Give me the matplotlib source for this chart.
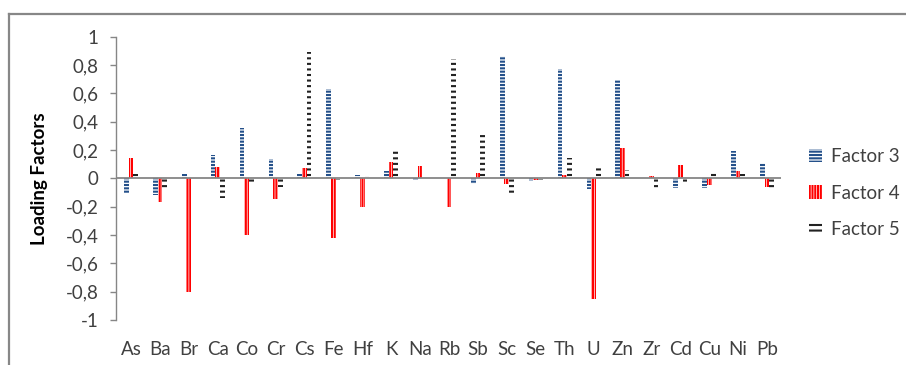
import matplotlib
matplotlib.use("Agg")
import matplotlib.pyplot as plt
import numpy as np
from matplotlib.lines import Line2D

plt.rcParams['font.family'] = ['Lato', 'DejaVu Sans']
plt.rcParams['hatch.linewidth'] = 1.5

categories = ["As", "Ba", "Br", "Ca", "Co", "Cr", "Cs", "Fe", "Hf", "K", "Na", "Rb",
              "Sb", "Sc", "Se", "Th", "U", "Zn", "Zr", "Cd", "Cu", "Ni", "Pb"]
factor3 = [-0.10, -0.12, 0.028, 0.163, 0.358, 0.137, 0.028, 0.632, 0.026, 0.054, -0.014, 0.004,
           -0.042, 0.866, -0.017, 0.773, -0.078, 0.693, 0.004, -0.066, -0.066, 0.193, 0.108]
factor4 = [0.144, -0.17, -0.80, 0.08, -0.40, -0.144, 0.07, -0.42, -0.20, 0.113, 0.087, -0.20,
           0.038, -0.042, -0.01, 0.024, -0.85, 0.212, 0.019, 0.094, -0.045, 0.052, -0.059]
factor5 = [0.03, -0.066, 0.005, -0.137, -0.038, -0.06, 0.89, -0.015, 0.02, 0.205, 0.01, 0.84,
           0.33, -0.125, -0.01, 0.144, 0.085, 0.057, -0.073, -0.047, 0.042, 0.033, -0.068]
series_names = ["Factor 3", "Factor 4", "Factor 5"]
y_ticks = [-1, -0.8, -0.6, -0.4, -0.2, 0, 0.2, 0.4, 0.6, 0.8, 1]
y_tick_labels = ["-1", "-0,8", "-0,6", "-0,4", "-0,2", "0", "0,2", "0,4", "0,6", "0,8", "1"]

W, H = 906, 365
fig = plt.figure(figsize=(W / 100, H / 100), dpi=100)
left, right, top, bottom = 116.5, 781.5, 36.7, 320.0
ax = fig.add_axes([left / W, 1 - bottom / H, (right - left) / W, (bottom - top) / H])

x = np.arange(len(categories))
bw = 0.163
styles = [
    dict(edgecolor="#24508A", hatch="-----"),
    dict(edgecolor="#FF0000", hatch="||||||"),
    dict(edgecolor="#222222", hatch="---"),
]
for i, (vals, st, name) in enumerate(zip([factor3, factor4, factor5], styles, series_names)):
    ax.bar(x + (i - 1) * 0.16, vals, width=bw, facecolor="white", linewidth=0,
           label=name, zorder=2, **st)

ax.axhline(0, color="#868686", linewidth=1.3, zorder=3)
ax.set_xlim(-0.5, len(categories) - 0.5)
ax.set_ylim(-1, 1)

ax.set_yticks(y_ticks)
ax.set_yticklabels(y_tick_labels)
ax.set_xticks(x)
ax.set_xticklabels(categories)

for s in ["top", "right", "bottom"]:
    ax.spines[s].set_visible(False)
ax.spines["left"].set_color("#868686")
ax.spines["left"].set_linewidth(1.0)
ax.tick_params(axis="y", direction="out", length=4, width=1.0, color="#868686",
               pad=9, labelsize=13.5, labelcolor="#404040")
ax.tick_params(axis="x", length=0, pad=15, labelsize=13.5, labelcolor="#404040")

ax.set_ylabel("Loading Factors", fontsize=13.5, fontweight="bold", color="black")
ax.yaxis.set_label_coords(-0.103, 0.5)

leg = ax.legend(loc="center left", bbox_to_anchor=(809 / W, 1 - 193 / H),
                bbox_transform=fig.transFigure, frameon=False, fontsize=13.5,
                handlelength=0.7, handleheight=0.7, handletextpad=0.45,
                labelspacing=1.05, borderpad=0, borderaxespad=0)
for t in leg.get_texts():
    t.set_color("#404040")

# chart area border (top and left visible)
fig.add_artist(Line2D([9 / W, 1.0], [1 - 14 / H, 1 - 14 / H], color="#878787",
                      linewidth=1.6, transform=fig.transFigure))
fig.add_artist(Line2D([9 / W, 9 / W], [0.0, 1 - 14 / H], color="#878787",
                      linewidth=1.6, transform=fig.transFigure))

fig.savefig("out.png", dpi=100, facecolor="white")
